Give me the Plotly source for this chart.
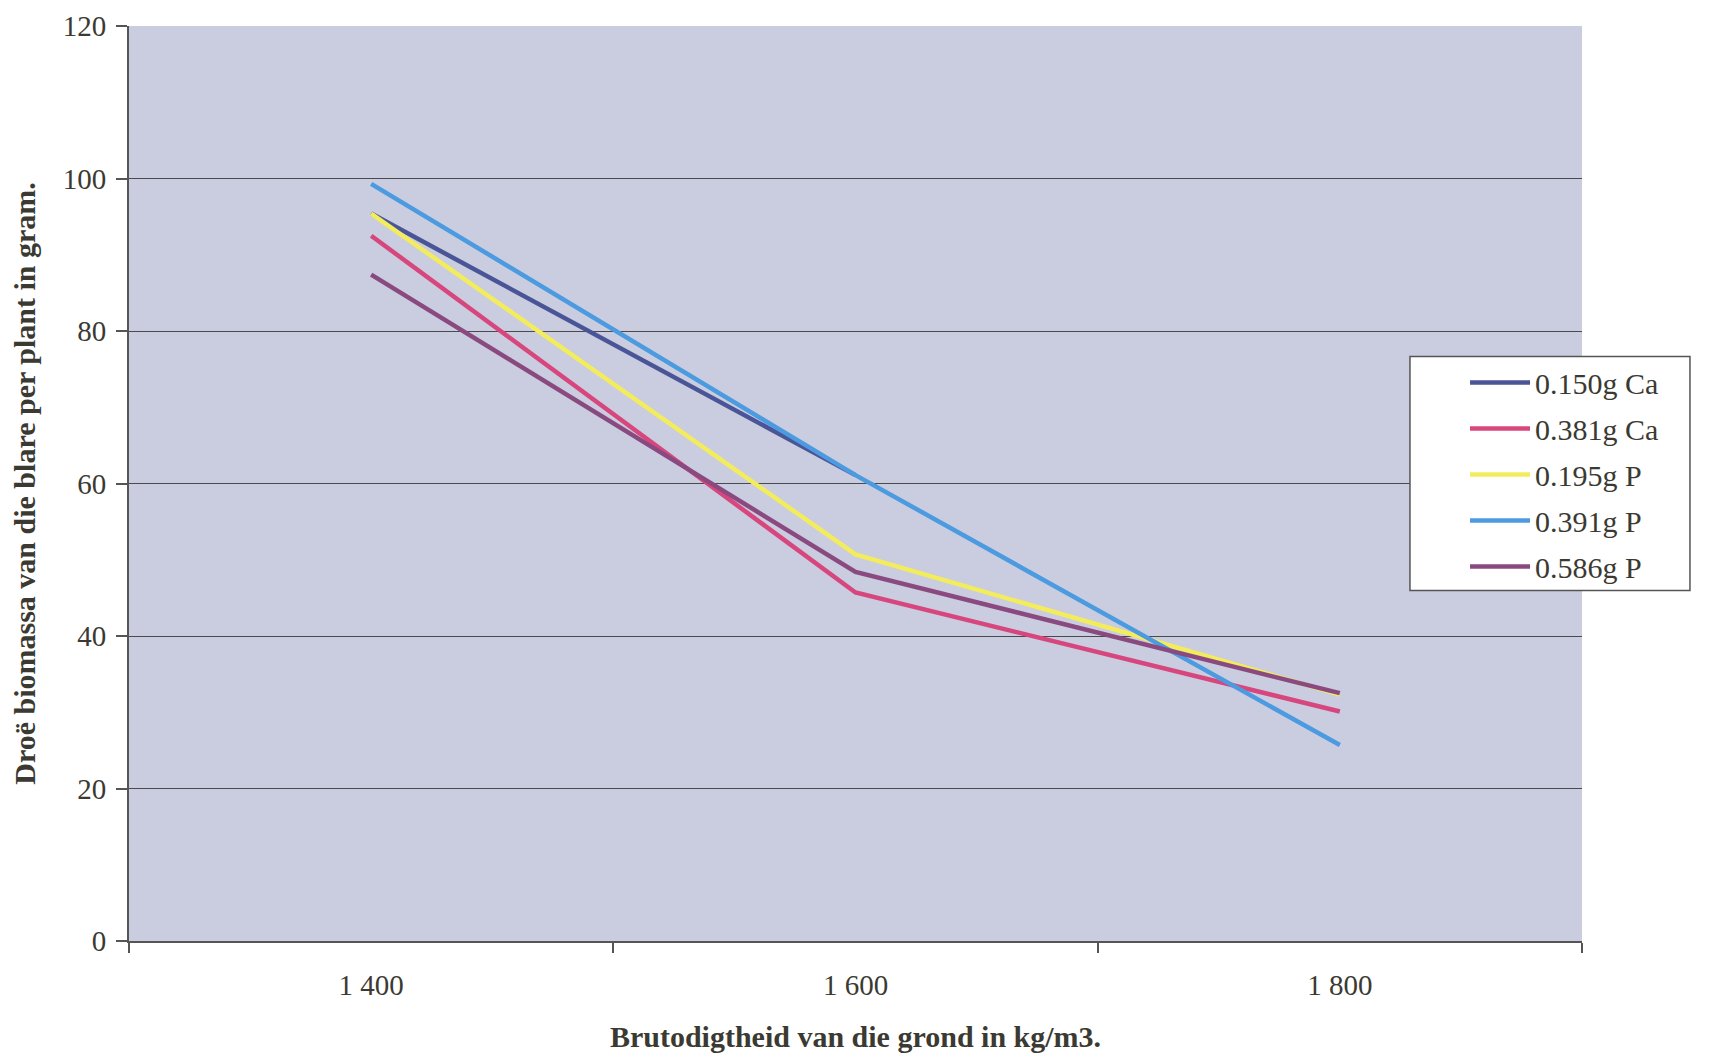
import plotly.graph_objects as go

categories = ["1 400", "1 600", "1 800"]
series_names = ["0.150g Ca", "0.381g Ca", "0.195g P", "0.391g P", "0.586g P"]
ca_0150 = [95.4, 61.1, None]
ca_0381 = [92.5, 45.7, 30.1]
p_0195 = [95.4, 50.7, 32.3]
p_0391 = [99.3, 61.1, 25.7]
p_0586 = [87.4, 48.4, 32.5]
series_values = [ca_0150, ca_0381, p_0195, p_0391, p_0586]
colors = ["#4a5598", "#d8467e", "#f3ec5c", "#4c9ae0", "#8a4a80"]
y_ticks = [0, 20, 40, 60, 80, 100, 120]

FONT = "Liberation Serif"
TXT = "#3b3a32"

fig = go.Figure()
for i, (name, vals, col) in enumerate(zip(series_names, series_values, colors)):
    fig.add_trace(go.Scatter(
        x=categories, y=vals, name=name, mode="lines", legendgroup=f"g{i}",
        line=dict(color=col, width=4.5), connectgaps=False,
    ))

# legend frame
fig.add_shape(type="rect", xref="paper", yref="paper",
              x0=0.8816, x1=1.0743, y0=0.383, y1=0.6387,
              fillcolor="white", line=dict(color="#555555", width=1.5),
              layer="above")

fig.update_layout(
    width=1720, height=1061,
    paper_bgcolor="white",
    plot_bgcolor="#c9cddf",
    margin=dict(l=121, r=146, t=18, b=128),
    font=dict(family=FONT, color=TXT, size=30),
    showlegend=True,
    legend=dict(
        x=0.9195, y=0.6387, xanchor="left", yanchor="top",
        bgcolor="rgba(0,0,0,0)", borderwidth=0,
        font=dict(family=FONT, size=30, color=TXT),
        itemwidth=60, tracegroupgap=4,
    ),
    xaxis=dict(
        type="category",
        range=[-0.5, 2.5],
        tickson="boundaries",
        automargin=False,
        ticks="outside", ticklen=10, tickcolor="#555555", tickwidth=1.5,
        showline=True, linecolor="#555555", linewidth=2,
        showgrid=False, zeroline=False,
        tickfont=dict(family=FONT, size=29, color=TXT),
        ticklabelstandoff=17,
        title=dict(text="<b>Brutodigtheid van die grond in kg/m3.</b>",
                   font=dict(family=FONT, size=30, color=TXT), standoff=26),
    ),
    yaxis=dict(
        range=[0, 120],
        tickvals=y_ticks,
        automargin=False,
        ticklabeloverflow="allow",
        ticks="outside", ticklen=11, tickcolor="#555555", tickwidth=1.5,
        showline=True, linecolor="#555555", linewidth=2,
        showgrid=True, gridcolor="#4a4a4a", gridwidth=1.2,
        zeroline=False,
        tickfont=dict(family=FONT, size=29, color=TXT),
        ticklabelstandoff=4,
        title=dict(text="<b>Droë biomassa van die blare per plant in gram.</b>",
                   font=dict(family=FONT, size=30, color=TXT), standoff=24),
    ),
)

fig.write_html("out.html")
